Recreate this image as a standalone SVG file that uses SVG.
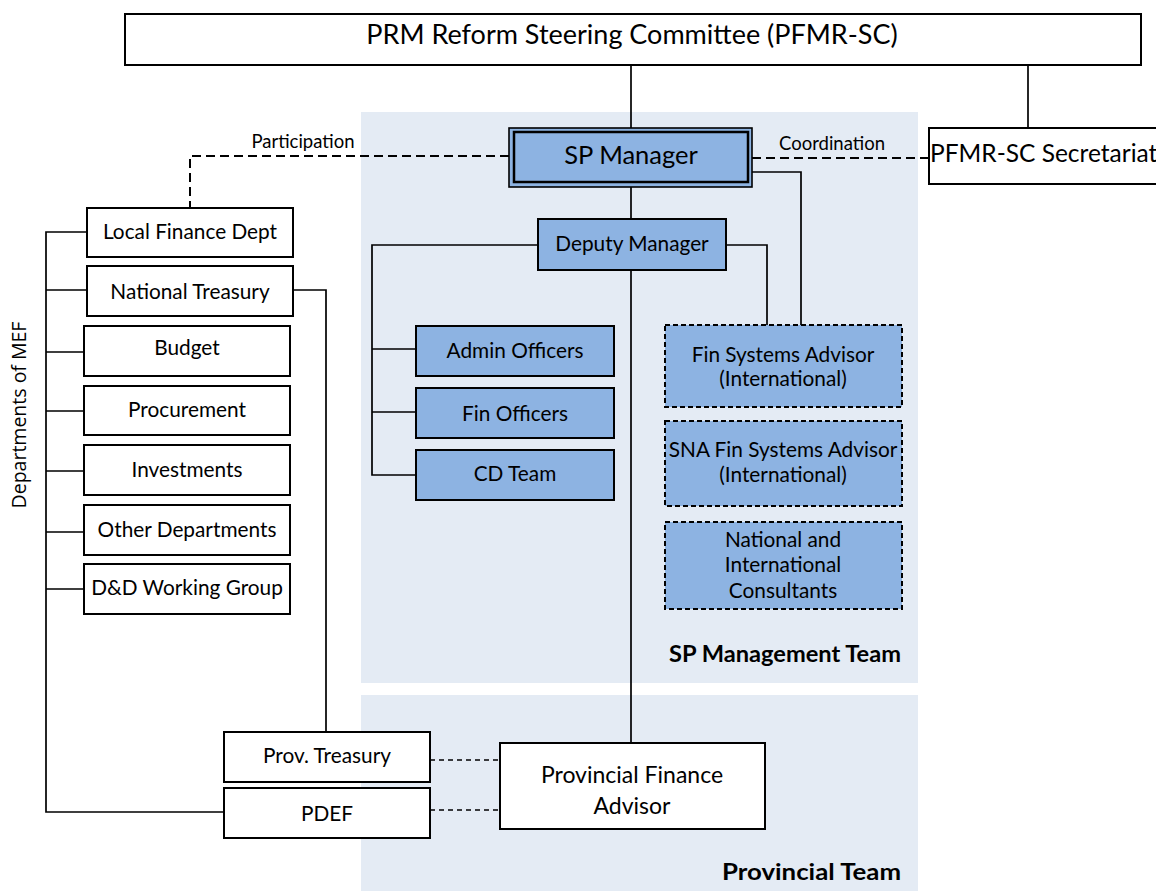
<svg xmlns="http://www.w3.org/2000/svg" width="1156" height="891" viewBox="0 0 1156 891">
<defs>
<style>
text{font-family:Lato,"Open Sans","Liberation Sans",sans-serif;fill:#000}
.box{fill:#fff;stroke:#000;stroke-width:2}
.blue{fill:#8DB3E2;stroke:#000;stroke-width:2}
.dbox{fill:#8DB3E2;stroke:#000;stroke-width:2;stroke-dasharray:5 3}
.panel{fill:#E4EBF4}
.ln{fill:none;stroke:#000;stroke-width:1.7}
.dash{fill:none;stroke:#000;stroke-width:2;stroke-dasharray:9 5}
.dash2{fill:none;stroke:#000;stroke-width:1.6;stroke-dasharray:5 4}
.t{font-size:20.8px;text-anchor:middle}
.lbl{font-size:18.5px;text-anchor:middle}
.team{font-size:23px;font-weight:bold;text-anchor:end}
</style>
</defs>
<rect width="1156" height="891" fill="#fff"/>
<g id="panels">
<rect class="panel" x="361" y="112" width="557" height="571"/>
<rect class="panel" x="361" y="695" width="557" height="196"/>
<text class="team" x="901" y="662" textLength="232" lengthAdjust="spacingAndGlyphs">SP Management Team</text>
<text class="team" x="901" y="880" textLength="179" lengthAdjust="spacingAndGlyphs">Provincial Team</text>
</g>
<g id="connectors">
<path class="ln" d="M631 65V128"/>
<path class="ln" d="M1028 65V128"/>
<path class="ln" d="M631 187V219"/>
<path class="ln" d="M631 270V743"/>
<path class="ln" d="M752 172H801V325"/>
<path class="ln" d="M726 245H767V325"/>
<path class="ln" d="M538 245H372V475H416"/>
<path class="ln" d="M372 349H416M372 412H416"/>
<path class="ln" d="M87 232H46V812H224"/>
<path class="ln" d="M46 290H87M46 352H84M46 411H84M46 471H84M46 532H84M46 589H84"/>
<path class="ln" d="M293 290H326V732"/>
<path class="dash" d="M509 156H190V212"/>
<path class="dash" d="M752 158H929"/>
<path class="dash2" d="M430 760H502M430 810H502"/>
<text class="lbl" x="303" y="148">Participation</text>
<text class="lbl" x="832" y="150">Coordination</text>
</g>
<g id="steering">
<rect class="box" x="125" y="14" width="1016" height="51"/>
<text x="632" y="44" style="font-size:27px;text-anchor:middle">PRM Reform Steering Committee (PFMR-SC)</text>
</g>
<g id="secretariat">
<rect class="box" x="929" y="128" width="240" height="56"/>
<text x="930" y="162" style="font-size:24.5px">PFMR-SC Secretariat</text>
</g>
<g id="sp-manager">
<rect x="509" y="128" width="243" height="59" fill="#8DB3E2" stroke="#000" stroke-width="1.6"/>
<rect x="514" y="132" width="234" height="50" fill="none" stroke="#000" stroke-width="2.5"/>
<text x="631" y="164" style="font-size:25.5px;text-anchor:middle">SP Manager</text>
</g>
<g id="deputy-manager">
<rect class="blue" x="538" y="219" width="188" height="51"/>
<text class="t" x="632" y="251">Deputy Manager</text>
</g>
<g id="admin-officers">
<rect class="blue" x="416" y="326" width="198" height="50"/>
<text class="t" x="515" y="358">Admin Officers</text>
</g>
<g id="fin-officers">
<rect class="blue" x="416" y="388" width="198" height="50"/>
<text class="t" x="515" y="421">Fin Officers</text>
</g>
<g id="cd-team">
<rect class="blue" x="416" y="450" width="198" height="50"/>
<text class="t" x="515" y="481">CD Team</text>
</g>
<g id="fin-systems-advisor">
<rect class="dbox" x="665" y="325" width="237" height="82"/>
<text class="t" x="783" y="362">Fin Systems Advisor</text>
<text class="t" x="783" y="386">(International)</text>
</g>
<g id="sna-advisor">
<rect class="dbox" x="665" y="421" width="237" height="85"/>
<text class="t" x="783" y="457">SNA Fin Systems Advisor</text>
<text class="t" x="783" y="482">(International)</text>
</g>
<g id="consultants">
<rect class="dbox" x="665" y="522" width="237" height="87"/>
<text class="t" x="783" y="547">National and</text>
<text class="t" x="783" y="572">International</text>
<text class="t" x="783" y="598">Consultants</text>
</g>
<g id="local-finance">
<rect class="box" x="87" y="208" width="206" height="49"/>
<text class="t" x="190" y="239">Local Finance Dept</text>
</g>
<g id="national-treasury">
<rect class="box" x="87" y="266" width="206" height="50"/>
<text class="t" x="190" y="299">National Treasury</text>
</g>
<g id="budget">
<rect class="box" x="84" y="326" width="206" height="50"/>
<text class="t" x="187" y="355">Budget</text>
</g>
<g id="procurement">
<rect class="box" x="84" y="386" width="206" height="49"/>
<text class="t" x="187" y="417">Procurement</text>
</g>
<g id="investments">
<rect class="box" x="84" y="445" width="206" height="50"/>
<text class="t" x="187" y="477">Investments</text>
</g>
<g id="other-departments">
<rect class="box" x="84" y="505" width="206" height="50"/>
<text class="t" x="187" y="537">Other Departments</text>
</g>
<g id="dd-working-group">
<rect class="box" x="84" y="564" width="206" height="50"/>
<text class="t" x="187" y="595">D&amp;D Working Group</text>
</g>
<g id="mef-label">
<text x="0" y="0" transform="translate(26 415) rotate(-90)" style="font-family:'Open Sans','DejaVu Sans',sans-serif;font-size:19.5px;text-anchor:middle">Departments of MEF</text>
</g>
<g id="prov-treasury">
<rect class="box" x="224" y="732" width="206" height="50"/>
<text class="t" x="327" y="763">Prov. Treasury</text>
</g>
<g id="pdef">
<rect class="box" x="224" y="788" width="206" height="50"/>
<text class="t" x="327" y="821">PDEF</text>
</g>
<g id="provincial-finance-advisor">
<rect class="box" x="500" y="743" width="265" height="86"/>
<text x="632" y="783" style="font-size:23px;text-anchor:middle">Provincial Finance</text>
<text x="632" y="814" style="font-size:23px;text-anchor:middle">Advisor</text>
</g>
</svg>
